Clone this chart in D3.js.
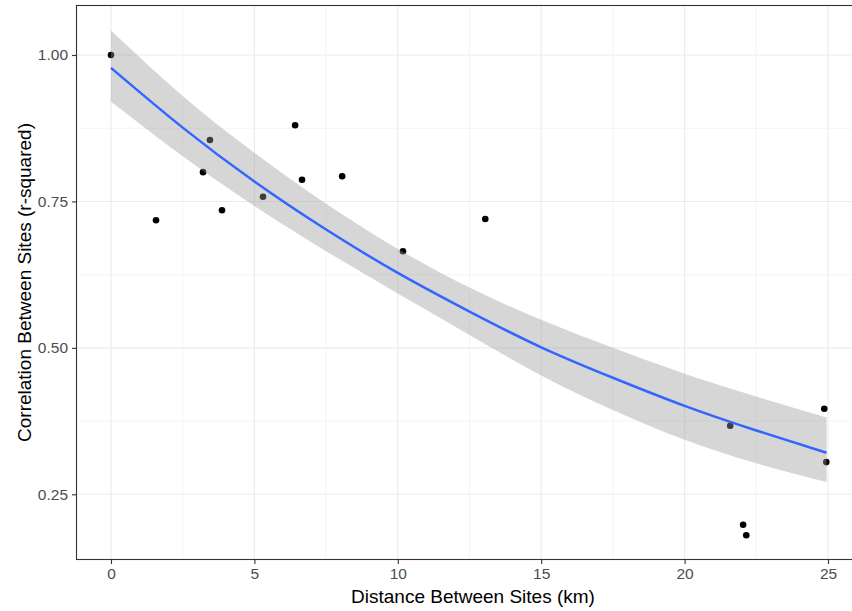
<!DOCTYPE html>
<html>
<head>
<meta charset="utf-8">
<script src="https://cdn.jsdelivr.net/npm/d3@7"></script>
<style>
  html, body { margin: 0; padding: 0; background: #fff; }
  svg { display: block; font-family: "Liberation Sans", Arial, Helvetica, sans-serif; }
</style>
</head>
<body>
<svg id="chart" width="852" height="611"></svg>
<script>
// ---- data ----
const distance = [0, 1.57, 3.21, 3.45, 3.87, 5.30, 6.42, 6.66, 8.06, 10.18, 13.05, 21.59, 22.04, 22.15, 24.87, 24.94];
const correlation = [1.00, 0.718, 0.800, 0.855, 0.735, 0.758, 0.880, 0.787, 0.793, 0.665, 0.720, 0.367, 0.198, 0.180, 0.396, 0.305];

// fitted smooth and its confidence band
const fitX =     [0,     2.5,   5,     7.5,   10,    12.5,  15,    17.5,  20,    22.5,  24.95];
const fitY =     [0.978, 0.876, 0.784, 0.702, 0.628, 0.562, 0.501, 0.449, 0.401, 0.359, 0.321];
const fitLower = [0.920, 0.827, 0.742, 0.665, 0.593, 0.522, 0.453, 0.394, 0.343, 0.303, 0.271];
const fitUpper = [1.042, 0.930, 0.833, 0.746, 0.669, 0.603, 0.548, 0.500, 0.456, 0.417, 0.381];

const xTicks = [0, 5, 10, 15, 20, 25];
const xMinor = [2.5, 7.5, 12.5, 17.5, 22.5];
const yTicks = [0.25, 0.50, 0.75, 1.00];
const yMinor = [0.375, 0.625, 0.875];

const xTitle = "Distance Between Sites (km)";
const yTitle = "Correlation Between Sites (r-squared)";

// ---- layout ----
const svg = d3.select("#chart");
const panel = { left: 76, top: 5, right: 870, bottom: 560 };

const x = d3.scaleLinear().domain([0, 25]).range([111, 828]);
const y = d3.scaleLinear().domain([0.25, 1.0]).range([494.3, 55]);

const defs = svg.append("defs");
defs.append("clipPath").attr("id", "clip")
  .append("rect")
  .attr("x", panel.left).attr("y", panel.top)
  .attr("width", panel.right - panel.left).attr("height", panel.bottom - panel.top);

const g = svg.append("g").attr("clip-path", "url(#clip)");

// background
g.append("rect")
  .attr("x", panel.left).attr("y", panel.top)
  .attr("width", panel.right - panel.left).attr("height", panel.bottom - panel.top)
  .attr("fill", "#fff");

// minor grid
g.selectAll(".xminor").data(xMinor).join("line")
  .attr("x1", d => x(d)).attr("x2", d => x(d))
  .attr("y1", panel.top).attr("y2", panel.bottom)
  .attr("stroke", "#ebebeb").attr("stroke-width", 0.55);
g.selectAll(".yminor").data(yMinor).join("line")
  .attr("y1", d => y(d)).attr("y2", d => y(d))
  .attr("x1", panel.left).attr("x2", panel.right)
  .attr("stroke", "#ebebeb").attr("stroke-width", 0.55);

// major grid
g.selectAll(".xmajor").data(xTicks).join("line")
  .attr("x1", d => x(d)).attr("x2", d => x(d))
  .attr("y1", panel.top).attr("y2", panel.bottom)
  .attr("stroke", "#ebebeb").attr("stroke-width", 1.1);
g.selectAll(".ymajor").data(yTicks).join("line")
  .attr("y1", d => y(d)).attr("y2", d => y(d))
  .attr("x1", panel.left).attr("x2", panel.right)
  .attr("stroke", "#ebebeb").attr("stroke-width", 1.1);

// points (drawn under the ribbon, as in the reference)
const pts = distance.map((d, i) => ({ x: d, y: correlation[i] }));
g.selectAll(".pt").data(pts).join("circle")
  .attr("cx", d => x(d.x)).attr("cy", d => y(d.y))
  .attr("r", 3.3).attr("fill", "#000");

// ribbon
const band = fitX.map((d, i) => ({ x: d, lo: fitLower[i], hi: fitUpper[i], m: fitY[i] }));
g.append("path")
  .datum(band)
  .attr("d", d3.area().x(d => x(d.x)).y0(d => y(d.lo)).y1(d => y(d.hi)).curve(d3.curveNatural))
  .attr("fill", "#999999").attr("fill-opacity", 0.4);

// fitted line
g.append("path")
  .datum(band)
  .attr("d", d3.line().x(d => x(d.x)).y(d => y(d.m)).curve(d3.curveNatural))
  .attr("fill", "none").attr("stroke", "#3366FF").attr("stroke-width", 2.5);

// panel border
svg.append("rect")
  .attr("x", panel.left + 0.5).attr("y", panel.top + 0.5)
  .attr("width", panel.right - panel.left).attr("height", panel.bottom - panel.top - 1)
  .attr("fill", "none").attr("stroke", "#333333").attr("stroke-width", 1.1);

// axes
const xAxis = d3.axisBottom(x).tickValues(xTicks).tickSize(4).tickPadding(4).tickFormat(d3.format("d"));
const yAxis = d3.axisLeft(y).tickValues(yTicks).tickSize(4).tickPadding(4).tickFormat(d3.format(".2f"));

const gx = svg.append("g").attr("transform", `translate(0,${panel.bottom})`).call(xAxis);
const gy = svg.append("g").attr("transform", `translate(${panel.left},0)`).call(yAxis);

[gx, gy].forEach(a => {
  a.select(".domain").remove();
  a.selectAll(".tick line").attr("stroke", "#333333").attr("stroke-width", 1.1);
  a.selectAll(".tick text").attr("fill", "#4d4d4d").style("font-size", "15.5px")
    .style("font-family", "'Liberation Sans', Arial, Helvetica, sans-serif");
});

// axis titles
svg.append("text")
  .attr("x", (panel.left + panel.right) / 2).attr("y", 603)
  .attr("text-anchor", "middle")
  .style("font-size", "19px").attr("fill", "#000")
  .text(xTitle);

svg.append("text")
  .attr("transform", `translate(31,${(panel.top + panel.bottom) / 2}) rotate(-90)`)
  .attr("text-anchor", "middle")
  .style("font-size", "19px").attr("fill", "#000")
  .text(yTitle);
</script>
</body>
</html>
